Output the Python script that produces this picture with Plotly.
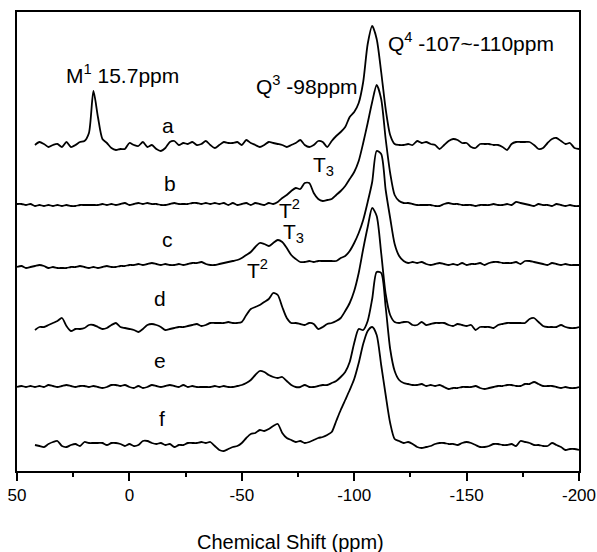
import numpy as np
import plotly.graph_objects as go

# chemical shift grid (ppm), shared by all spectra
ppm = np.arange(50, -201, -2)

# intensities above each spectrum's own baseline
spec_a = [None, None, None, None,
          2, 5, 3, 0, 2, 3, 0, 5, 0, 2, 5, 6, 14, 56, 30, 8, 4, -1, -3, -2, -2, 4,
          2, 1, 5, 0, 2, -2, -4, -1, 5, 6, 2, 4, 3, 5, 2, 3, 6,
          2, -1, 2, 5, 4, 4, 5, 2, 7, 4, 2, 0, 2, 5, 4, 3, 2, 0, 2, 4, 7, 2, 0, 2, 6, 5, 0,
          6, 11, 15, 20, 30, 35, 44, 65, 103, 121, 108, 75, 38, 12, 3, 2,
          2, 3, 2, 6, 4, 5, 3, 2, -2, 2, 6, 8, 7, 4, 4, 0, -1, 3, 3, 3, 2, 2, 0, -3,
          3, 5, 5, 5, 5, 2, -2, -1, 4, 8, 9, 6, 3, 4, -1, -2]
spec_b = [1, 1, 0, 1, -1, 0, -1, 0, -1, 0, -1, 0, -1, -1, 0, 0, 0, 0, 0, 1, 0, 1, 0, 1, 2, 0,
          1, 2, 1, 2, 1, 1, 0, 0, 1, 2, 1, 1, 1, 2, 2, 1, 2,
          1, 2, 1, 2, 0, 2, 0, 1, 2, 0, 2, 1, 0, 2, 1, 3, 7, 10, 14, 17, 16, 22, 22, 12, 6, 4, 5,
          6, 10, 14, 19, 26, 33, 44, 62, 82, 103, 120, 106, 66, 32, 10, 4,
          2, 2, 1, 0, 0, 0, 0, -1, -1, 1, 2, 1, 1, 0, 0, 0, -1, 0, 0, 0, 1, 0, 0, 1,
          0, 3, 2, 1, 0, -1, 1, 0, 0, -1, 1, 0, -1, 0, -1, -1]
spec_c = [-1, 0, -2, -1, 0, 1, 0, -2, -1, -2, -2, -2, -1, -1, 0, -1, -2, -1, -2, -1, 0, -1, -1, 0, 0, 1,
          1, 2, 1, 2, 3, 2, 1, 2, 1, 1, 2, 1, 2, 3, 3, 4, 2,
          1, 1, 2, 3, 4, 5, 6, 8, 11, 14, 19, 23, 22, 20, 23, 26, 24, 18, 11, 7, 4, 4, 5, 4, 5, 5,
          5, 5, 5, 8, 10, 15, 23, 33, 46, 64, 84, 115, 112, 76, 48, 22, 10,
          5, 3, 4, 3, 4, 2, 1, 2, 3, 2, 1, 2, 1, 3, 1, 2, 2, 3, 1, 3, 4, 4, 3, 3,
          3, 4, 2, 5, 5, 4, 3, 2, 1, 3, 2, 1, 2, 1, 1, 1]
spec_d = [None, None, None, None,
          1, 4, 4, 6, 8, 10, 13, 5, 0, 2, 2, 3, 6, 6, 4, 2, 3, 6, 8, 4, 3, 2,
          1, -1, 2, 6, 7, 6, 4, 1, 2, 3, 4, 4, 5, 6, 7, 5, 6,
          8, 8, 8, 8, 9, 8, 8, 9, 16, 22, 24, 26, 29, 32, 38, 36, 24, 13, 8, 8, 7, 6, 8, 7, 2, 4, 7,
          8, 10, 13, 20, 28, 40, 58, 82, 104, 123, 115, 78, 37, 16, 9, 8,
          9, 9, 6, 6, 9, 6, 7, 8, 8, 8, 6, 5, 7, 6, 5, 6, 1, 4, 4, 4, 3, 6, 7, 8,
          8, 8, 8, 8, 12, 13, 9, 5, 4, 4, 4, 6, 4, 3, 3, 4]
spec_e = [0, 1, 0, 1, 0, 1, 0, 2, 1, 0, 1, 2, 1, 0, 1, 1, 0, 1, 0, -1, 0, 2, 2, 1, 2, 0,
          -1, 1, -1, 0, 2, 1, 0, 1, 2, 1, 0, 2, 0, 1, 0, 0, 0,
          0, 1, 0, 1, 0, 0, 1, 2, 4, 7, 12, 16, 15, 12, 10, 9, 10, 6, 2, 0, 0, 2, 0, 0, 1, 2, 2,
          4, 6, 10, 15, 25, 44, 58, 57, 66, 88, 115, 114, 80, 38, 16, 7,
          4, 3, 2, 2, 3, 1, 2, 1, 2, 0, -2, -1, -1, 0, 0, 0, 1, -1, -2, -1, 0, 1, 1, 2,
          2, 1, 1, 3, 3, 5, 3, 1, 1, 1, 0, -1, 0, -1, -1, 0]
spec_f = [None, None, None, None,
          0, -1, -2, 1, 3, 4, -1, -2, 0, 1, -1, 3, 2, 2, 2, 2, 0, 2, 2, 1, -1, 1,
          -1, 0, 4, 4, 2, 1, 2, 0, 1, -2, 0, 0, 2, 2, 2, 3, 2,
          3, -1, -5, -6, -4, -2, -1, 2, 7, 11, 12, 15, 14, 16, 19, 21, 12, 7, 5, 3, 4, 2, 3, 5, 7, 8, 10,
          13, 24, 35, 45, 55, 66, 82, 101, 114, 118, 110, 80, 50, 22, 6, 4,
          2, 3, 1, -2, -3, -2, -1, 1, 2, 2, 1, 1, 0, 2, 3, 2, 0, -2, -2, -1, 1, 1, 0, 0,
          1, -1, 4, 3, 2, 0, 0, -1, -1, 2, 0, -2, -5, -4, -4, -5]

spectra = [spec_a, spec_b, spec_c, spec_d, spec_e, spec_f]
labels = ["a", "b", "c", "d", "e", "f"]
# vertical stacking offsets of each spectrum
offsets = [324, 266, 205, 140, 84, 26]

tick_vals = [50, 0, -50, -100, -150, -200]
tick_text = ["50", "0", "-50", "-100", "-150", "-200"]
minor_vals = [25, -25, -75, -125, -175]

FONT = "Arial, Liberation Sans, sans-serif"

fig = go.Figure()
for name, vals, off in zip(labels, spectra, offsets):
    assert len(vals) == len(ppm), name
    y = [None if v is None else v + off for v in vals]
    fig.add_trace(go.Scatter(
        x=ppm, y=y, mode="lines", name=name,
        line=dict(color="black", width=1.8, shape="spline", smoothing=0.7),
        connectgaps=False, hoverinfo="skip",
    ))

# sample letters
label_pos = [(-17.2, 346), (-18.0, 288), (-17.1, 232), (-13.5, 173), (-13.5, 111), (-14.4, 53)]
notes = [(lx, ly, t) for (lx, ly), t in zip(label_pos, labels)]
notes += [
    (3.2, 397, "M<sup>1</sup> 15.7ppm"),
    (-78.9, 386, "Q<sup>3</sup> -98ppm"),
    (-152.1, 429, "Q<sup>4</sup> -107~-110ppm"),
    (-86.4, 305, "T<sub>3</sub>"),
    (-71.0, 262, "T<sup>2</sup>"),
    (-72.8, 238, "T<sub>3</sub>"),
    (-57.2, 202, "T<sup>2</sup>"),
]
for nx, ny, txt in notes:
    fig.add_annotation(x=nx, y=ny, text=txt, showarrow=False,
                       xanchor="center", yanchor="middle",
                       font=dict(family=FONT, size=21, color="black"))

fig.add_annotation(x=0.486, y=-0.155, xref="paper", yref="paper",
                   text="Chemical Shift (ppm)", showarrow=False,
                   xanchor="center", yanchor="middle",
                   font=dict(family=FONT, size=20, color="black"))

fig.update_layout(
    width=597, height=552,
    margin=dict(l=17, r=18, t=12, b=81, autoexpand=False),
    plot_bgcolor="white", paper_bgcolor="white",
    showlegend=False,
    font=dict(family=FONT, color="black"),
)
fig.update_xaxes(
    range=[50, -200], tickvals=tick_vals, ticktext=tick_text,
    ticks="outside", ticklen=8, tickwidth=1.5, tickcolor="black",
    tickfont=dict(family=FONT, size=17, color="black"),
    minor=dict(tickvals=minor_vals, ticks="outside", ticklen=4, tickwidth=1.5, tickcolor="black"),
    showline=True, linecolor="black", linewidth=1.5, mirror=True,
    showgrid=False, zeroline=False, automargin=False,
)
fig.update_yaxes(
    range=[0, 459], showticklabels=False, ticks="",
    showline=True, linecolor="black", linewidth=1.5, mirror=True,
    showgrid=False, zeroline=False, automargin=False,
)

# the page's default body margin would push the figure out of the window
fig.write_html("out.html", config={"displayModeBar": False},
               post_script="document.body.style.margin='0';")
